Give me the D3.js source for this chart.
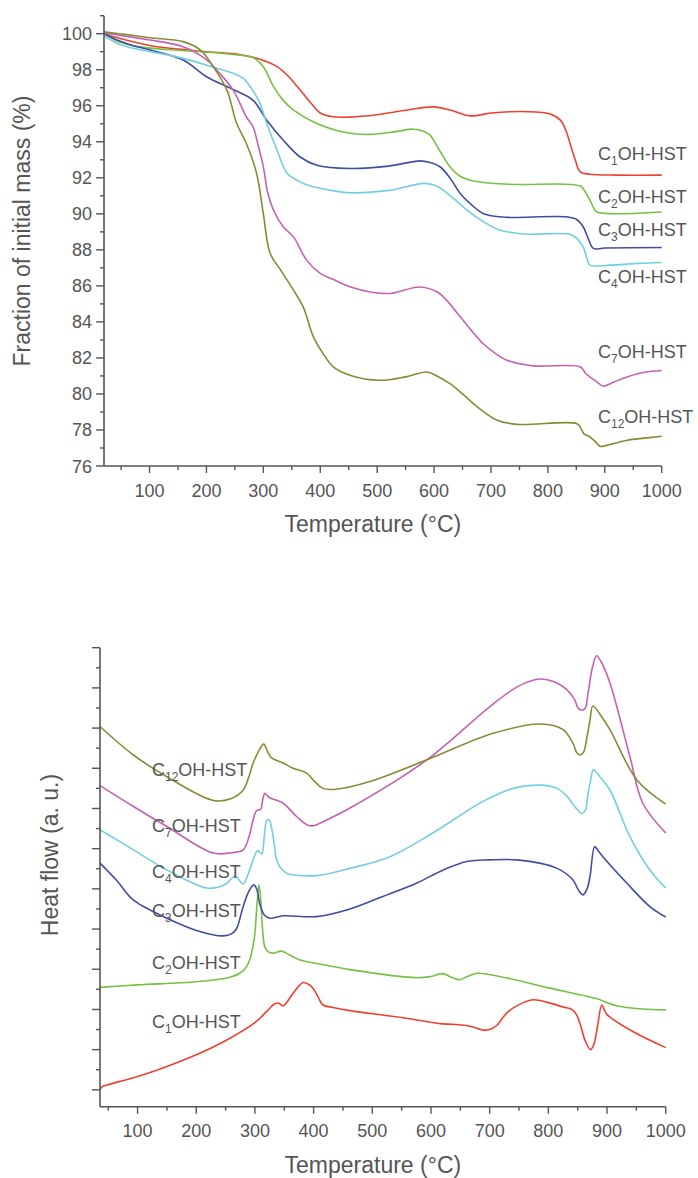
<!DOCTYPE html>
<html><head><meta charset="utf-8">
<script src="https://cdn.jsdelivr.net/npm/d3@7"></script>
<style>
html,body{margin:0;padding:0;background:#fff;}
svg{display:block;font-family:"Liberation Sans",Arial,Helvetica,sans-serif;}
</style></head>
<body>
<svg id="chart" width="698" height="1178"></svg>
<script>
// ---------- DATA ----------
const sampleNames = ["C1", "C2", "C3", "C4", "C7", "C12"];
const subscripts = ["1", "2", "3", "4", "7", "12"];
const seriesColors = ["#ee4130", "#78c043", "#3f4ea2", "#72cfe0", "#c462b1", "#8a8a35"];

// TGA: [temperature °C, fraction of initial mass %]
const tgaC1 = [[20,100.0],[50,99.72],[100,99.35],[150,99.15],[200,99.0],[250,98.88],[290,98.62],[324,98.17],[345,97.6],[364,96.9],[385,96.1],[400,95.6],[420,95.4],[452,95.37],[500,95.5],[550,95.75],[598,95.94],[630,95.75],[663,95.44],[700,95.6],[734,95.67],[780,95.65],[804,95.54],[822,95.2],[832,94.6],[839,93.9],[848,93.0],[857,92.33],[874,92.2],[920,92.15],[1000,92.15]];
const tgaC2 = [[20,100.05],[43,99.6],[70,99.35],[101,99.2],[150,99.08],[189,99.0],[247,98.85],[283,98.65],[300,98.17],[308,97.7],[318,97.06],[335,96.3],[353,95.76],[394,95.02],[452,94.47],[488,94.41],[530,94.55],[563,94.7],[580,94.6],[593,94.37],[610,93.5],[628,92.61],[645,92.1],[663,91.87],[700,91.7],[746,91.63],[857,91.54],[866,91.2],[874,90.76],[880,90.35],[886,90.1],[1000,90.1]];
const tgaC3 = [[20,100.0],[43,99.65],[70,99.35],[101,99.1],[159,98.54],[201,97.6],[247,96.9],[282,96.3],[306,95.2],[335,94.09],[364,93.17],[394,92.7],[452,92.52],[520,92.65],[575,92.94],[593,92.85],[611,92.6],[630,91.9],[646,91.13],[666,90.5],[686,90.02],[710,89.85],[734,89.8],[834,89.83],[850,89.7],[862,89.28],[870,88.7],[880,88.08],[900,88.1],[1000,88.13]];
const tgaC4 = [[20,99.9],[43,99.47],[71,99.19],[110,98.95],[159,98.63],[218,98.08],[247,97.8],[265,97.5],[277,97.06],[294,96.13],[306,95.02],[324,93.54],[342,92.24],[360,91.85],[377,91.6],[420,91.3],[452,91.17],[520,91.3],[581,91.69],[600,91.6],[616,91.32],[636,90.8],[658,90.21],[690,89.5],[716,89.09],[740,88.95],[764,88.87],[839,88.86],[852,88.6],[862,88.17],[868,87.6],[874,87.15],[909,87.15],[960,87.25],[1000,87.3]];
const tgaC7 = [[20,100.05],[60,99.85],[101,99.65],[159,99.28],[201,98.54],[218,97.98],[247,96.87],[270,95.39],[282,94.83],[290,93.91],[300,92.61],[308,91.13],[318,90.2],[335,89.28],[353,88.72],[376,87.43],[400,86.69],[423,86.35],[452,85.95],[490,85.65],[523,85.58],[575,85.94],[605,85.67],[625,85.1],[646,84.28],[686,82.8],[710,82.2],[728,81.87],[774,81.56],[857,81.5],[866,81.15],[874,80.94],[885,80.7],[897,80.43],[915,80.65],[939,80.94],[970,81.2],[1000,81.3]];
const tgaC12 = [[20,100.1],[60,99.95],[101,99.78],[159,99.56],[189,99.1],[212,98.17],[236,96.87],[253,95.03],[270,93.92],[288,92.26],[300,90.0],[312,87.8],[330,86.9],[353,85.76],[370,84.83],[388,83.17],[405,82.24],[423,81.5],[452,81.04],[505,80.76],[550,80.95],[587,81.22],[605,81.0],[628,80.57],[650,80.0],[676,79.28],[711,78.54],[746,78.31],[851,78.35],[858,78.1],[863,77.8],[874,77.61],[885,77.3],[892,77.09],[910,77.2],[939,77.43],[970,77.55],[1000,77.65]];

// DSC: [temperature °C, heat flow a.u.]
const dscC1 = [[36,0],[40,0.08],[48,0.12],[100,0.33],[150,0.58],[200,0.87],[252,1.24],[300,1.67],[320,1.95],[334,2.14],[341,2.15],[348,2.09],[365,2.4],[382,2.67],[392,2.62],[399,2.53],[408,2.3],[416,2.11],[433,2.05],[462,1.97],[550,1.8],[620,1.64],[649,1.62],[670,1.57],[688,1.49],[700,1.5],[712,1.6],[729,1.91],[750,2.12],[774,2.24],[800,2.17],[825,2.06],[840,2.0],[848,1.87],[855,1.6],[862,1.25],[872,1.0],[878,1.15],[884,1.6],[891,2.11],[895,2.0],[900,1.87],[944,1.45],[1000,1.05]];
const dscC2 = [[36,2.55],[100,2.61],[200,2.69],[252,2.78],[274,2.9],[285,3.05],[291,3.23],[297,3.6],[300,3.9],[303,4.5],[307,5.1],[310,4.7],[313,4.0],[317,3.55],[322,3.44],[331,3.4],[345,3.45],[360,3.35],[377,3.23],[433,3.07],[462,2.99],[576,2.79],[600,2.82],[620,2.89],[635,2.8],[649,2.74],[662,2.82],[678,2.9],[717,2.82],[803,2.53],[882,2.27],[895,2.2],[916,2.09],[960,2.01],[1000,1.99]];
const dscC3 = [[36,5.64],[65,5.2],[92,4.73],[150,4.27],[206,3.94],[246,3.83],[262,3.9],[269,4.02],[280,4.56],[290,4.95],[298,5.1],[303,5.0],[308,4.64],[316,4.35],[326,4.27],[348,4.33],[405,4.31],[462,4.5],[518,4.81],[575,5.14],[621,5.47],[661,5.68],[700,5.72],[746,5.72],[815,5.51],[842,5.22],[852,4.95],[859,4.85],[866,5.0],[871,5.31],[879,6.05],[885,5.95],[893,5.8],[934,5.14],[973,4.56],[1000,4.3]];
const dscC4 = [[36,6.47],[93,5.97],[150,5.47],[218,5.02],[240,5.05],[252,5.14],[262,5.28],[268,5.31],[274,5.2],[280,5.12],[288,5.35],[297,5.72],[304,5.95],[309,5.9],[312,5.87],[316,6.3],[320,6.7],[324,6.72],[329,6.47],[333,6.1],[337,5.72],[345,5.5],[354,5.39],[405,5.33],[462,5.51],[530,5.8],[603,6.39],[688,7.17],[740,7.5],[786,7.58],[815,7.5],[832,7.3],[845,7.05],[857,6.87],[863,6.95],[867,7.3],[872,7.7],[877,7.96],[890,7.75],[905,7.46],[939,6.3],[973,5.47],[1000,5.02]];
const dscC7 = [[36,7.57],[93,7.05],[150,6.55],[229,5.89],[260,5.9],[280,5.97],[290,6.3],[297,6.72],[303,6.95],[310,6.98],[313,7.2],[317,7.38],[322,7.3],[326,7.26],[348,7.13],[371,6.8],[389,6.59],[400,6.57],[416,6.67],[462,7.01],[593,8.21],[700,9.53],[750,10.05],[786,10.22],[810,10.15],[832,9.95],[845,9.7],[851,9.49],[858,9.45],[863,9.5],[868,9.9],[875,10.5],[882,10.8],[890,10.65],[905,10.12],[939,8.29],[961,7.13],[1000,6.39]];
const dscC12 = [[36,9.04],[93,8.33],[150,7.79],[229,7.2],[260,7.25],[280,7.46],[290,7.8],[297,8.13],[308,8.47],[315,8.6],[322,8.4],[329,8.25],[348,8.13],[365,8.0],[388,7.88],[402,7.67],[416,7.5],[439,7.48],[496,7.67],[593,8.21],[706,8.87],[786,9.1],[825,8.96],[842,8.62],[848,8.4],[854,8.33],[860,8.4],[866,8.79],[871,9.2],[876,9.55],[890,9.3],[905,8.96],[951,7.71],[1000,7.11]];

const tgaSeries = [tgaC1, tgaC2, tgaC3, tgaC4, tgaC7, tgaC12];
const dscSeries = [dscC1, dscC2, dscC3, dscC4, dscC7, dscC12];

const xTickValues = [100,200,300,400,500,600,700,800,900,1000];
const tgaYTickValues = [76,78,80,82,84,86,88,90,92,94,96,98,100];

// ---------- DRAW ----------
const svg = d3.select("#chart");
const textColor = "#555";
const axisColor = "#555";

function drawAxes(g, x, y, opts) {
  const [x0, x1] = x.range();
  const [y0, y1] = y.range(); // y0 bottom, y1 top
  g.append("line").attr("x1", x0).attr("x2", x1).attr("y1", y0).attr("y2", y0)
    .attr("stroke", axisColor).attr("stroke-width", 1.6);
  g.append("line").attr("x1", x0).attr("x2", x0).attr("y1", y0).attr("y2", y1)
    .attr("stroke", axisColor).attr("stroke-width", 1.6);
  const xMinor = d3.range(50, 1000, 100).filter(v => v >= x.domain()[0]);
  g.selectAll(null).data(xTickValues).enter().append("line")
    .attr("x1", d => x(d)).attr("x2", d => x(d)).attr("y1", y0).attr("y2", y0 + 7)
    .attr("stroke", axisColor).attr("stroke-width", 1.4);
  g.selectAll(null).data(xMinor).enter().append("line")
    .attr("x1", d => x(d)).attr("x2", d => x(d)).attr("y1", y0).attr("y2", y0 + 4)
    .attr("stroke", axisColor).attr("stroke-width", 1.4);
  g.selectAll(null).data(xTickValues).enter().append("text")
    .attr("x", d => x(d)).attr("y", y0 + opts.xLabelDy)
    .attr("text-anchor", "middle").attr("font-size", 18).attr("fill", textColor)
    .text(d => d);
  g.selectAll(null).data(opts.yMajor).enter().append("line")
    .attr("x1", x0 - 8).attr("x2", x0).attr("y1", d => y(d)).attr("y2", d => y(d))
    .attr("stroke", axisColor).attr("stroke-width", 1.4);
  g.selectAll(null).data(opts.yMinor).enter().append("line")
    .attr("x1", x0 - 4).attr("x2", x0).attr("y1", d => y(d)).attr("y2", d => y(d))
    .attr("stroke", axisColor).attr("stroke-width", 1.4);
  if (opts.yLabels) {
    g.selectAll(null).data(opts.yMajor).enter().append("text")
      .attr("x", x0 - 12).attr("y", d => y(d) + 6.5)
      .attr("text-anchor", "end").attr("font-size", 18).attr("fill", textColor)
      .text(d => d);
  }
  g.append("text").attr("x", (x0 + x1) / 2 - 10).attr("y", y0 + opts.xTitleDy)
    .attr("text-anchor", "middle").attr("font-size", 23).attr("fill", textColor)
    .text("Temperature (°C)");
  g.append("text").attr("transform", `translate(${opts.yTitleX},${opts.yTitleY}) rotate(-90)`)
    .attr("text-anchor", "middle").attr("font-size", 23).attr("fill", textColor)
    .attr("dy", "0.35em")
    .text(opts.yTitle);
}

function drawLabel(g, xPos, yPos, idx) {
  const t = g.append("text").attr("x", xPos).attr("y", yPos)
    .attr("font-size", 18).attr("fill", textColor);
  t.append("tspan").text("C");
  t.append("tspan").attr("font-size", 12).attr("dy", 5).text(subscripts[idx]);
  t.append("tspan").attr("dy", -5).text("OH-HST");
}

const smooth = d3.curveCatmullRom.alpha(0.5);

// ----- Top: TGA -----
const xTop = d3.scaleLinear().domain([20, 1000]).range([104, 661.7]);
const yTop = d3.scaleLinear().domain([76, 101]).range([466, 15.7]);
const gTop = svg.append("g");
const lineTop = d3.line().x(d => xTop(d[0])).y(d => yTop(d[1])).curve(smooth);
tgaSeries.forEach((s, i) => {
  gTop.append("path").datum(s).attr("d", lineTop).attr("fill", "none")
    .attr("stroke", seriesColors[i]).attr("stroke-width", 1.6);
});
drawAxes(gTop, xTop, yTop, {
  xLabelDy: 31, xTitleDy: 66,
  yMajor: tgaYTickValues, yMinor: d3.range(77, 102, 2), yLabels: true,
  yTitle: "Fraction of initial mass (%)", yTitleX: 22, yTitleY: 231
});
const topLabelY = [160, 203, 236, 283, 358, 423];
topLabelY.forEach((yy, i) => drawLabel(gTop, 598, yy, i));

// ----- Bottom: DSC -----
const xBot = d3.scaleLinear().domain([36, 1000]).range([100, 665.7]);
const yBot = d3.scaleLinear().domain([-0.42, 11]).range([1106.7, 647.7]);
const gBot = svg.append("g");
const lineBot = d3.line().x(d => xBot(d[0])).y(d => yBot(d[1])).curve(smooth);
dscSeries.forEach((s, i) => {
  gBot.append("path").datum(s).attr("d", lineBot).attr("fill", "none")
    .attr("stroke", seriesColors[i]).attr("stroke-width", 1.6);
});
drawAxes(gBot, xBot, yBot, {
  xLabelDy: 30, xTitleDy: 66,
  yMajor: d3.range(0, 12, 1), yMinor: d3.range(0.5, 11, 1), yLabels: false,
  yTitle: "Heat flow (a. u.)", yTitleX: 50, yTitleY: 855
});
const botLabelY = [1028, 969, 917, 878, 832, 776];
botLabelY.forEach((yy, i) => drawLabel(gBot, 152, yy, i));
</script>
</body></html>
